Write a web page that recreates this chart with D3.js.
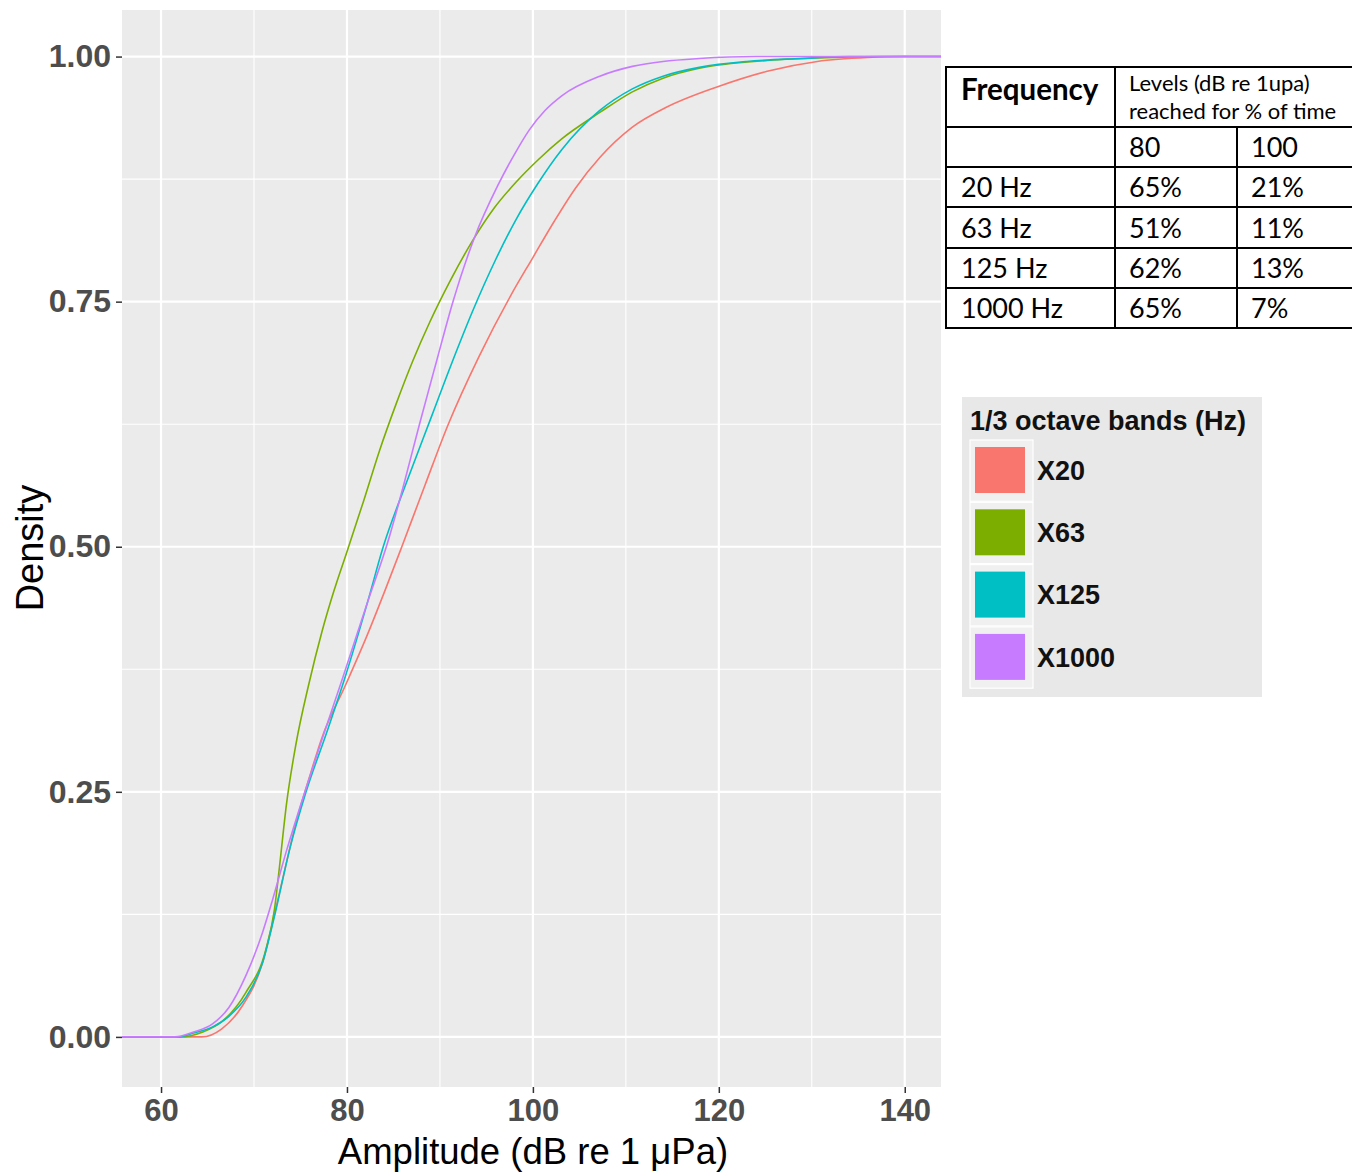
<!DOCTYPE html>
<html>
<head>
<meta charset="utf-8">
<script src="https://cdn.jsdelivr.net/npm/d3@7"></script>
<style>
  html, body { margin: 0; padding: 0; background: #ffffff; }
  svg { display: block; }
</style>
</head>
<body>
<svg id="chart" width="1352" height="1173"></svg>
<script>
// Empirical cumulative distributions of 1/3 octave band levels: [dB, cumulative fraction]
const bands = ["X20", "X63", "X125", "X1000"];
const bandColors = ["#F8766D", "#7CAE00", "#00BFC4", "#C77CFF"];

const ecdfX20 = [
  [64.4, 0], [66.5, 0.008], [68.7, 0.031], [70.9, 0.075], [72.2, 0.125], [73.3, 0.17],
  [74.5, 0.218], [75.9, 0.263], [77.3, 0.305], [79.9, 0.36], [82.1, 0.408], [84.2, 0.458],
  [85.9, 0.5], [88.4, 0.563], [90.9, 0.625], [94.2, 0.694], [97.6, 0.756], [100.0, 0.795],
  [102.3, 0.832], [104.6, 0.866], [107.2, 0.897], [110.7, 0.928], [114.3, 0.948],
  [119.8, 0.969], [125.2, 0.985], [130.6, 0.995], [136.0, 0.999], [140.0, 1.0]
];
const ecdfX63 = [
  [62.0, 0], [64.5, 0.005], [66.6, 0.016], [69.1, 0.045], [71.3, 0.09], [72.2, 0.13],
  [72.7, 0.17], [73.5, 0.238], [74.5, 0.298], [75.9, 0.36], [77.3, 0.413], [78.6, 0.455],
  [80.0, 0.495], [81.8, 0.547], [83.5, 0.598], [85.3, 0.646], [87.1, 0.69], [88.9, 0.729],
  [91.2, 0.773], [93.5, 0.812], [95.8, 0.845], [98.2, 0.872], [100.6, 0.895], [103.1, 0.916],
  [107.2, 0.943], [110.7, 0.964], [114.0, 0.978], [117.9, 0.988], [125.2, 0.996],
  [132.4, 0.999], [138.0, 1.0]
];
const ecdfX125 = [
  [61.9, 0], [63.5, 0.004], [65.5, 0.01], [67.3, 0.021], [69.1, 0.04], [70.9, 0.075],
  [72.2, 0.123], [73.8, 0.19], [75.6, 0.25], [77.8, 0.31], [79.9, 0.37], [82.2, 0.443],
  [83.9, 0.5], [86.5, 0.568], [89.1, 0.633], [91.3, 0.688], [93.5, 0.74], [96.0, 0.793],
  [98.2, 0.834], [100.5, 0.87], [103.1, 0.905], [107.2, 0.945], [110.7, 0.967],
  [114.0, 0.98], [117.9, 0.989], [123.0, 0.995], [128.8, 0.998], [134.0, 1.0]
];
const ecdfX1000 = [
  [61.5, 0], [63.5, 0.005], [65.5, 0.013], [67.3, 0.03], [69.1, 0.062], [70.9, 0.106],
  [72.0, 0.14], [73.5, 0.19], [75.2, 0.242], [77.3, 0.303], [79.5, 0.365], [82.2, 0.443],
  [84.4, 0.505], [86.1, 0.563], [87.8, 0.625], [89.6, 0.688], [91.4, 0.75], [93.7, 0.815],
  [96.2, 0.868], [98.0, 0.9], [99.6, 0.925], [101.3, 0.945], [103.1, 0.96], [107.2, 0.98],
  [110.7, 0.99], [114.0, 0.995], [117.9, 0.998], [124.0, 1.0]
];
const seriesData = [ecdfX20, ecdfX63, ecdfX125, ecdfX1000];

const xTicks = [60, 80, 100, 120, 140];
const xMinor = [70, 90, 110, 130];
const yTicks = [0, 0.25, 0.5, 0.75, 1.0];
const yMinor = [0.125, 0.375, 0.625, 0.875];

// Summary table
const tableHeader = ["Frequency", "Levels (dB re 1upa)", "reached for % of time"];
const tableLevels = ["80", "100"];
const tableFreqs = ["20 Hz", "63 Hz", "125 Hz", "1000 Hz"];
const tableAt80 = ["65%", "51%", "62%", "65%"];
const tableAt100 = ["21%", "11%", "13%", "7%"];

const svg = d3.select("#chart");
const sans = "'Liberation Sans', Arial, sans-serif";

// Panel
const panel = { left: 122, right: 941, top: 10, bottom: 1087 };
const x = d3.scaleLinear().domain([55.8, 143.9]).range([panel.left, panel.right]);
const y = d3.scaleLinear().domain([-0.0511, 1.0475]).range([panel.bottom, panel.top]);

svg.append("rect")
  .attr("x", panel.left).attr("y", panel.top)
  .attr("width", panel.right - panel.left).attr("height", panel.bottom - panel.top)
  .attr("fill", "#EBEBEB");

const grid = svg.append("g");
grid.selectAll(".vminor").data(xMinor).join("line")
  .attr("x1", d => x(d)).attr("x2", d => x(d))
  .attr("y1", panel.top).attr("y2", panel.bottom)
  .attr("stroke", "#ffffff").attr("stroke-width", 1.1);
grid.selectAll(".hminor").data(yMinor).join("line")
  .attr("y1", d => y(d)).attr("y2", d => y(d))
  .attr("x1", panel.left).attr("x2", panel.right)
  .attr("stroke", "#ffffff").attr("stroke-width", 1.1);
grid.selectAll(".vmajor").data(xTicks).join("line")
  .attr("x1", d => x(d)).attr("x2", d => x(d))
  .attr("y1", panel.top).attr("y2", panel.bottom)
  .attr("stroke", "#ffffff").attr("stroke-width", 2.2);
grid.selectAll(".hmajor").data(yTicks).join("line")
  .attr("y1", d => y(d)).attr("y2", d => y(d))
  .attr("x1", panel.left).attr("x2", panel.right)
  .attr("stroke", "#ffffff").attr("stroke-width", 2.2);

// Curves, padded to the panel edges like a step ECDF
const line = d3.line()
  .x(d => x(d[0])).y(d => y(d[1]))
  .curve(d3.curveMonotoneX);
const [xLo, xHi] = x.domain();
seriesData.forEach((pts, i) => {
  const padded = [[xLo, 0], ...pts, [xHi, 1]];
  svg.append("path")
    .datum(padded)
    .attr("d", line)
    .attr("fill", "none")
    .attr("stroke", bandColors[i])
    .attr("stroke-width", 1.6)
    .attr("stroke-linejoin", "round");
});

// Axes
const xAxis = d3.axisBottom(x).tickValues(xTicks).tickFormat(d3.format("d"))
  .tickSize(6).tickPadding(6);
const gx = svg.append("g").attr("transform", `translate(0,${panel.bottom})`).call(xAxis);
gx.select(".domain").remove();
gx.selectAll(".tick line").attr("stroke", "#333333").attr("stroke-width", 1.5);
gx.selectAll(".tick text")
  .attr("fill", "#4D4D4D")
  .style("font-family", sans)
  .style("font-weight", "bold").style("font-size", "31px");

const yAxis = d3.axisLeft(y).tickValues(yTicks).tickFormat(d3.format(".2f"))
  .tickSize(6).tickPadding(5);
const gy = svg.append("g").attr("transform", `translate(${panel.left},0)`).call(yAxis);
gy.select(".domain").remove();
gy.selectAll(".tick line").attr("stroke", "#333333").attr("stroke-width", 1.5);
gy.selectAll(".tick text")
  .attr("fill", "#4D4D4D")
  .style("font-family", sans)
  .style("font-weight", "bold").style("font-size", "32px");

svg.append("text")
  .attr("x", 533).attr("y", 1164)
  .attr("text-anchor", "middle")
  .style("font-family", sans)
  .style("font-size", "36.5px").attr("fill", "#000000")
  .text("Amplitude (dB re 1 μPa)");

svg.append("text")
  .attr("transform", `translate(43,548) rotate(-90)`)
  .attr("text-anchor", "middle")
  .style("font-family", sans)
  .style("font-size", "38px").attr("fill", "#000000")
  .text("Density");

// Legend
const legend = svg.append("g").attr("transform", "translate(962,397)");
legend.append("rect").attr("width", 300).attr("height", 300).attr("fill", "#E8E8E8");
legend.append("text")
  .attr("x", 8).attr("y", 33)
  .style("font-family", sans)
  .style("font-weight", "bold").style("font-size", "27px").attr("fill", "#111111")
  .text("1/3 octave bands (Hz)");
const keyStep = 62.3;
bands.forEach((b, i) => {
  const ky = 50 + i * keyStep;
  legend.append("rect")
    .attr("x", 8).attr("y", ky - 7).attr("width", 63).attr("height", keyStep - 1)
    .attr("fill", "#F0F0F0").attr("stroke", "#FFFFFF").attr("stroke-width", 1.2);
  legend.append("rect")
    .attr("x", 13).attr("y", ky).attr("width", 50).attr("height", 46)
    .attr("fill", bandColors[i]);
  legend.append("text")
    .attr("x", 75).attr("y", ky + 23).attr("dy", "0.36em")
    .style("font-family", sans)
    .style("font-weight", "bold").style("font-size", "27px").attr("fill", "#111111")
    .text(b);
});

// Summary table
const table = svg.append("g");
const colX = [946, 1115, 1237, 1360];
const rowY = [67, 127, 167, 207, 248, 288, 328];
table.append("rect")
  .attr("x", colX[0]).attr("y", rowY[0])
  .attr("width", colX[3] - colX[0]).attr("height", rowY[6] - rowY[0])
  .attr("fill", "#ffffff");
function hline(x1, x2, yy) {
  table.append("line").attr("x1", x1).attr("x2", x2).attr("y1", yy).attr("y2", yy)
    .attr("stroke", "#000000").attr("stroke-width", 2);
}
function vline(xx, y1, y2) {
  table.append("line").attr("x1", xx).attr("x2", xx).attr("y1", y1).attr("y2", y2)
    .attr("stroke", "#000000").attr("stroke-width", 2);
}
rowY.forEach(r => hline(colX[0] - 1, colX[3], r));
vline(colX[0], rowY[0], rowY[6]);
vline(colX[1], rowY[0], rowY[6]);
vline(colX[2], rowY[1], rowY[6]);

const tFont = "Lato, Carlito, 'Open Sans', sans-serif";
table.append("text").attr("x", 961).attr("y", 90).attr("dy", "0.35em")
  .style("font-family", tFont).style("font-weight", "bold").style("font-size", "29.5px")
  .text(tableHeader[0]);
table.append("text").attr("x", 1129).attr("y", 83).attr("dy", "0.35em")
  .style("font-family", tFont).style("font-size", "22px").text(tableHeader[1]);
table.append("text").attr("x", 1129).attr("y", 111).attr("dy", "0.35em")
  .style("font-family", tFont).style("font-size", "22px").text(tableHeader[2]);

function cell(txt, cx, r) {
  table.append("text")
    .attr("x", cx).attr("y", (rowY[r] + rowY[r + 1]) / 2 + 1).attr("dy", "0.35em")
    .style("font-family", tFont).style("font-size", "27px").text(txt);
}
cell(tableLevels[0], 1129, 1);
cell(tableLevels[1], 1251, 1);
tableFreqs.forEach((f, i) => {
  cell(f, 961, i + 2);
  cell(tableAt80[i], 1129, i + 2);
  cell(tableAt100[i], 1251, i + 2);
});
</script>
</body>
</html>
